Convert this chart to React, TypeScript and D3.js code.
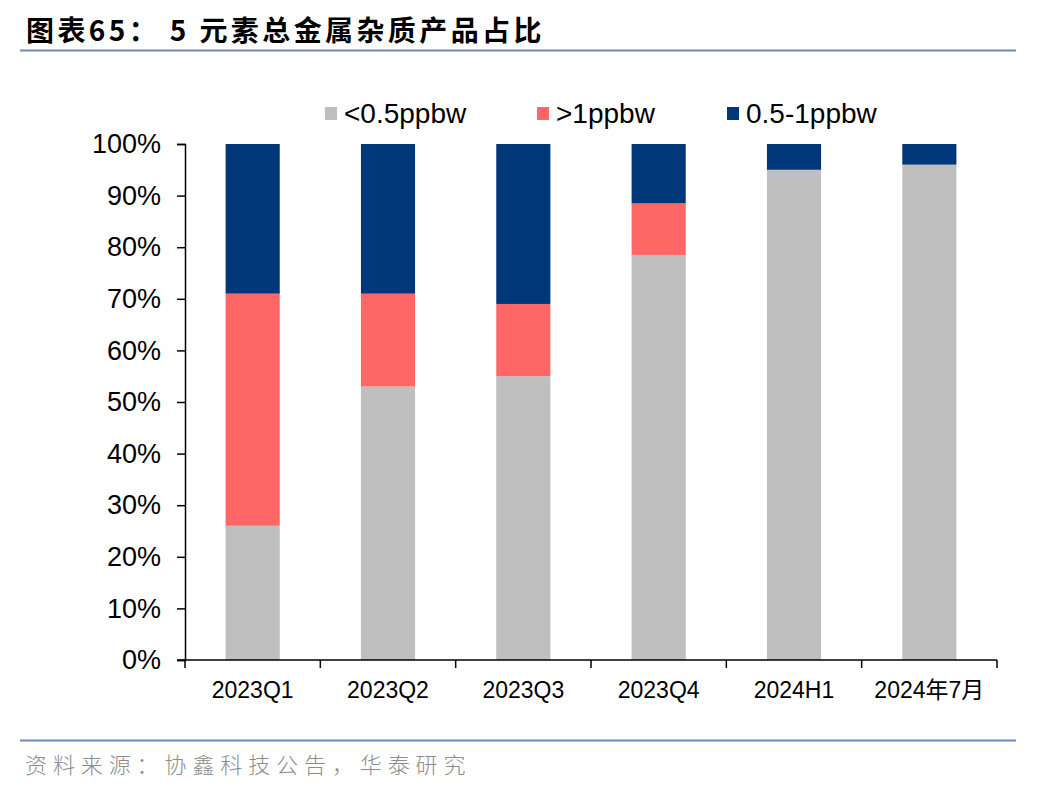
import * as d3 from "d3";
import React from "react";

const categories = ["2023Q1", "2023Q2", "2023Q3", "2023Q4", "2024H1", "2024年7月"];
const seriesNames = ["<0.5ppbw", ">1ppbw", "0.5-1ppbw"];
const lowValues = [26, 53, 55, 78.5, 95, 96];
const highValues = [45, 18, 14, 10, 0, 0];
const midValues = [29, 29, 31, 11.5, 5, 4];
const yTicks = [0, 10, 20, 30, 40, 50, 60, 70, 80, 90, 100];
const colors = ["#BFBFBF", "#FF6666", "#003778"];

export default function App() {
	const svgRef = React.useRef<SVGSVGElement>(null);

	React.useEffect(() => {
		document.body.style.margin = "0";
		if (!svgRef.current) return;
		const width = 1048;
		const height = 792;
		const margins = { top: 144, right: 51, bottom: 132, left: 185 };

		const svg = d3.select(svgRef.current);
		svg.selectAll("*").remove();

		const sans = "'Liberation Sans', Arial, sans-serif";
		const cjk = "'Noto Sans CJK SC', sans-serif";

		// title and rule lines
		svg
			.append("text")
			.attr("x", 26)
			.attr("y", 41)
			.attr("font-family", cjk)
			.attr("font-weight", "bold")
			.attr("font-size", 28)
			.attr("letter-spacing", 3.4)
			.attr("fill", "#000")
			.attr("xml:space", "preserve")
			.text("图表65： 5 元素总金属杂质产品占比");

		svg
			.append("line")
			.attr("x1", 20)
			.attr("x2", 1016)
			.attr("y1", 50.5)
			.attr("y2", 50.5)
			.attr("stroke", "#6A8AC0")
			.attr("stroke-width", 2);

		svg
			.append("line")
			.attr("x1", 20)
			.attr("x2", 1016)
			.attr("y1", 740.5)
			.attr("y2", 740.5)
			.attr("stroke", "#6A8AC0")
			.attr("stroke-width", 2);

		svg
			.append("text")
			.attr("x", 25)
			.attr("y", 773)
			.attr("font-family", cjk)
			.attr("font-weight", 300)
			.attr("font-size", 22)
			.attr("fill", "#8C8C8C")
			.attr("letter-spacing", 5.9)
			.text("资料来源：协鑫科技公告，华泰研究");

		const x = d3
			.scaleBand()
			.domain(categories)
			.range([margins.left, width - margins.right])
			.paddingInner(0.6)
			.paddingOuter(0.3);
		const y = d3
			.scaleLinear()
			.domain([0, 100])
			.range([height - margins.bottom, margins.top]);

		// stacked bars
		const rows = categories.map((c, i) => ({
			cat: c,
			low: lowValues[i],
			high: highValues[i],
			mid: midValues[i],
		}));
		const stack = d3.stack<(typeof rows)[number]>().keys(["low", "high", "mid"]);
		const layers = stack(rows);

		layers.forEach((layer, li) => {
			svg
				.append("g")
				.selectAll("rect")
				.data(layer)
				.join("rect")
				.attr("x", (d) => x(d.data.cat) as number)
				.attr("width", x.bandwidth())
				.attr("y", (d) => y(Math.min(d[1], 100)))
				.attr("height", (d) => Math.max(0, y(d[0]) - y(Math.min(d[1], 100))))
				.attr("fill", colors[li]);
		});

		// y axis
		const yAxis = svg
			.append("g")
			.attr("transform", `translate(${margins.left},0)`)
			.call(
				d3
					.axisLeft(y)
					.tickValues(yTicks)
					.tickSize(8)
					.tickPadding(16)
					.tickFormat((d) => `${d}%`),
			);
		yAxis.selectAll("path, line").attr("stroke", "#000").attr("stroke-width", 1.5);
		yAxis
			.selectAll("text")
			.attr("font-family", sans)
			.attr("font-size", 27)
			.attr("fill", "#000");

		// x axis
		const xEdges = d3.range(categories.length + 1).map(
			(i) => margins.left + (i * (width - margins.right - margins.left)) / categories.length,
		);
		const xAxisG = svg.append("g");
		xAxisG
			.append("line")
			.attr("x1", margins.left - 8)
			.attr("x2", width - margins.right)
			.attr("y1", y(0))
			.attr("y2", y(0))
			.attr("stroke", "#000")
			.attr("stroke-width", 1.5);
		xAxisG
			.selectAll("line.tick")
			.data(xEdges)
			.join("line")
			.attr("class", "tick")
			.attr("x1", (d) => d)
			.attr("x2", (d) => d)
			.attr("y1", y(0))
			.attr("y2", y(0) + 8)
			.attr("stroke", "#000")
			.attr("stroke-width", 1.5);
		xAxisG
			.selectAll("text")
			.data(categories)
			.join("text")
			.attr("x", (d) => (x(d) as number) + x.bandwidth() / 2)
			.attr("y", y(0) + 38)
			.attr("text-anchor", "middle")
			.attr("font-family", "'Liberation Sans', 'Noto Sans CJK SC', sans-serif")
			.attr("font-size", 23)
			.attr("fill", "#000")
			.text((d) => d);

		// legend
		const legendX = [325, 537, 727];
		const legend = svg.append("g");
		seriesNames.forEach((name, i) => {
			legend
				.append("rect")
				.attr("x", legendX[i])
				.attr("y", 107)
				.attr("width", 12)
				.attr("height", 13)
				.attr("fill", colors[i]);
			legend
				.append("text")
				.attr("x", legendX[i] + 19)
				.attr("y", 123)
				.attr("font-family", sans)
				.attr("font-size", 28)
				.attr("fill", "#000")
				.text(name);
		});
	}, []);

	return <svg ref={svgRef} width={1048} height={792} style={{ display: "block" }} />;
}
